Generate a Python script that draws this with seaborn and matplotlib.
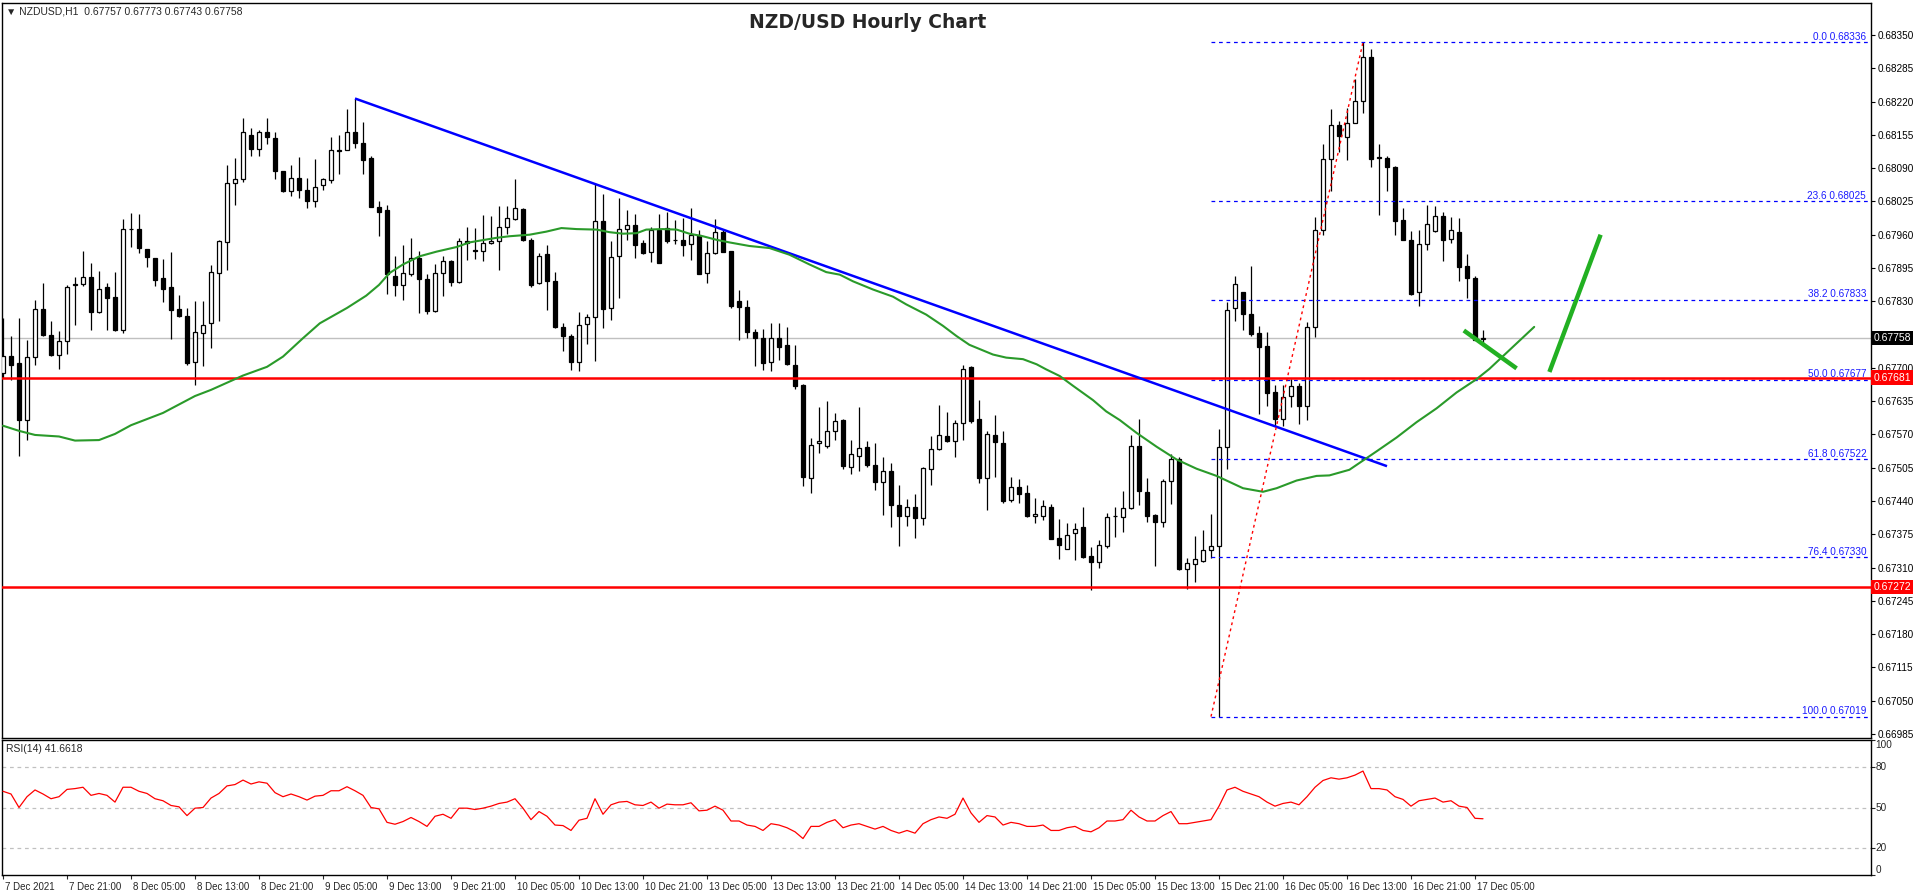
import numpy as np
import pandas as pd
import matplotlib
matplotlib.use("Agg")
import matplotlib.pyplot as plt
import matplotlib.transforms as mtransforms
import seaborn as sns

# ---------------- data ----------------
open_ = [0.67689,0.67724,0.67709,0.67598,0.67722,0.67814,0.67765,0.67726,0.67753,0.67862,
         0.67863,0.67878,0.67809,0.67858,0.67839,0.67774,0.67971,0.67971,0.67932,0.67915,
         0.67876,0.67857,0.67814,0.67802,0.67711,0.67768,0.67788,0.67885,0.67945,0.68061,
         0.68069,0.68155,0.68127,0.68160,0.68149,0.68084,0.68045,0.68071,0.68048,0.68026,
         0.68057,0.68067,0.68125,0.68126,0.68161,0.68139,0.68110,0.68014,0.68009,0.67880,
         0.67862,0.67884,0.67915,0.67874,0.67811,0.67885,0.67908,0.67867,0.67948,0.67930,
         0.67928,0.67944,0.67947,0.67975,0.67991,0.68010,0.67950,0.67865,0.67923,0.67870,
         0.67780,0.67763,0.67711,0.67785,0.67800,0.67986,0.67817,0.67918,0.67971,0.67979,
         0.67943,0.67926,0.67970,0.67973,0.67950,0.67950,0.67941,0.67960,0.67885,0.67924,
         0.67966,0.67928,0.67830,0.67819,0.67771,0.67758,0.67711,0.67758,0.67745,0.67706,
         0.67667,0.67485,0.67553,0.67547,0.67576,0.67598,0.67507,0.67528,0.67545,0.67510,
         0.67477,0.67498,0.67432,0.67410,0.67428,0.67407,0.67503,0.67542,0.67566,0.67558,
         0.67593,0.67701,0.67601,0.67484,0.67568,0.67553,0.67442,0.67467,0.67455,0.67410,
         0.67411,0.67428,0.67367,0.67347,0.67377,0.67390,0.67332,0.67321,0.67352,0.67410,
         0.67408,0.67426,0.67548,0.67458,0.67412,0.67399,0.67480,0.67523,0.67308,0.67317,
         0.67322,0.67344,0.67353,0.67546,0.67816,0.67848,0.67805,0.67768,0.67743,0.67652,
         0.67600,0.67646,0.67664,0.67625,0.67780,0.67970,0.68108,0.68174,0.68151,0.68179,
         0.68222,0.68308,0.68111,0.68110,0.68093,0.67988,0.67950,0.67848,0.67941,0.67968,
         0.67997,0.67952,0.67966,0.67898,0.67875,0.67757]
high = [0.67798,0.67763,0.67797,0.67755,0.67832,0.67865,0.67792,0.67772,0.67862,0.67878,
        0.67928,0.67904,0.67889,0.67865,0.67888,0.67991,0.68002,0.68001,0.67932,0.67915,
        0.67913,0.67927,0.67843,0.67817,0.67830,0.67831,0.67900,0.67950,0.68096,0.68110,
        0.68188,0.68169,0.68165,0.68188,0.68160,0.68084,0.68096,0.68112,0.68070,0.68108,
        0.68071,0.68151,0.68155,0.68205,0.68226,0.68181,0.68114,0.68026,0.68018,0.67919,
        0.67939,0.67953,0.67928,0.67884,0.67902,0.67918,0.67911,0.67953,0.67975,0.67974,
        0.67999,0.67997,0.68017,0.68017,0.68069,0.68012,0.67954,0.67924,0.67939,0.67888,
        0.67787,0.67767,0.67810,0.67806,0.68061,0.68040,0.67948,0.68032,0.68008,0.68001,
        0.67950,0.67976,0.68000,0.68005,0.67988,0.67993,0.68013,0.67970,0.67947,0.67991,
        0.67970,0.67928,0.67853,0.67833,0.67775,0.67775,0.67787,0.67788,0.67779,0.67744,
        0.67668,0.67564,0.67623,0.67636,0.67612,0.67600,0.67559,0.67624,0.67557,0.67554,
        0.67525,0.67514,0.67471,0.67443,0.67453,0.67506,0.67566,0.67627,0.67614,0.67598,
        0.67706,0.67703,0.67637,0.67576,0.67607,0.67577,0.67486,0.67482,0.67471,0.67446,
        0.67441,0.67434,0.67404,0.67398,0.67398,0.67429,0.67350,0.67363,0.67416,0.67428,
        0.67460,0.67569,0.67600,0.67485,0.67415,0.67482,0.67532,0.67526,0.67328,0.67371,
        0.67383,0.67414,0.67580,0.67829,0.67879,0.67848,0.67898,0.67782,0.67771,0.67666,
        0.67666,0.67678,0.67671,0.67789,0.67995,0.68138,0.68206,0.68183,0.68208,0.68265,
        0.68336,0.68323,0.68138,0.68113,0.68095,0.68013,0.67968,0.67970,0.68018,0.68017,
        0.68004,0.67995,0.67993,0.67922,0.67879,0.67773]
low = [0.67681,0.67676,0.67528,0.67559,0.67705,0.67763,0.67723,0.67698,0.67728,0.67783,
       0.67859,0.67774,0.67807,0.67774,0.67772,0.67768,0.67936,0.67924,0.67897,0.67859,
       0.67828,0.67757,0.67800,0.67706,0.67667,0.67703,0.67739,0.67791,0.67891,0.68018,
       0.68062,0.68113,0.68113,0.68138,0.68069,0.68044,0.68035,0.68031,0.68012,0.68015,
       0.68047,0.68061,0.68078,0.68125,0.68129,0.68078,0.68014,0.67958,0.67844,0.67840,
       0.67833,0.67880,0.67807,0.67806,0.67809,0.67841,0.67859,0.67866,0.67911,0.67913,
       0.67908,0.67941,0.67891,0.67962,0.67988,0.67948,0.67858,0.67863,0.67813,0.67778,
       0.67732,0.67696,0.67693,0.67746,0.67714,0.67778,0.67794,0.67836,0.67950,0.67915,
       0.67922,0.67906,0.67904,0.67943,0.67941,0.67919,0.67911,0.67884,0.67865,0.67923,
       0.67926,0.67817,0.67754,0.67758,0.67703,0.67696,0.67694,0.67716,0.67706,0.67658,
       0.67469,0.67456,0.67534,0.67544,0.67560,0.67502,0.67493,0.67499,0.67506,0.67462,
       0.67412,0.67389,0.67352,0.67391,0.67368,0.67393,0.67471,0.67540,0.67555,0.67525,
       0.67560,0.67593,0.67475,0.67423,0.67486,0.67436,0.67438,0.67437,0.67408,0.67398,
       0.67403,0.67365,0.67326,0.67346,0.67325,0.67328,0.67267,0.67310,0.67349,0.67369,
       0.67380,0.67424,0.67433,0.67399,0.67313,0.67390,0.67435,0.67306,0.67269,0.67281,
       0.67320,0.67329,0.67019,0.67503,0.67791,0.67773,0.67762,0.67610,0.67625,0.67587,
       0.67587,0.67623,0.67591,0.67598,0.67761,0.67959,0.68045,0.68122,0.68106,0.68178,
       0.68197,0.68093,0.67999,0.68045,0.67959,0.67949,0.67843,0.67821,0.67931,0.67966,
       0.67909,0.67943,0.67870,0.67836,0.67755,0.67743]
close = [0.67724,0.67706,0.67598,0.67722,0.67815,0.67764,0.67726,0.67753,0.67858,0.67862,
         0.67878,0.67809,0.67854,0.67836,0.67774,0.67971,0.67972,0.67935,0.67917,0.67871,
         0.67854,0.67813,0.67801,0.67709,0.67770,0.67784,0.67888,0.67947,0.68061,0.68069,
         0.68161,0.68127,0.68161,0.68151,0.68084,0.68045,0.68071,0.68047,0.68026,0.68053,
         0.68069,0.68126,0.68124,0.68161,0.68139,0.68106,0.68015,0.68005,0.67883,0.67862,
         0.67885,0.67915,0.67874,0.67811,0.67885,0.67908,0.67867,0.67948,0.67944,0.67928,
         0.67944,0.67947,0.67975,0.67992,0.68012,0.67949,0.67862,0.67919,0.67869,0.67779,
         0.67762,0.67711,0.67784,0.67800,0.67986,0.67814,0.67917,0.67971,0.67979,0.67939,
         0.67924,0.67970,0.67904,0.67947,0.67949,0.67939,0.67960,0.67884,0.67924,0.67966,
         0.67926,0.67820,0.67818,0.67770,0.67758,0.67710,0.67758,0.67741,0.67707,0.67664,
         0.67486,0.67550,0.67557,0.67577,0.67597,0.67508,0.67531,0.67544,0.67511,0.67477,
         0.67498,0.67432,0.67410,0.67428,0.67407,0.67505,0.67542,0.67568,0.67557,0.67593,
         0.67698,0.67596,0.67484,0.67570,0.67555,0.67440,0.67468,0.67454,0.67410,0.67414,
         0.67430,0.67365,0.67355,0.67373,0.67386,0.67330,0.67321,0.67354,0.67408,0.67410,
         0.67426,0.67548,0.67460,0.67410,0.67399,0.67480,0.67523,0.67308,0.67319,0.67326,
         0.67344,0.67353,0.67546,0.67813,0.67864,0.67805,0.67766,0.67741,0.67650,0.67600,
         0.67644,0.67664,0.67626,0.67780,0.67970,0.68108,0.68174,0.68153,0.68178,0.68222,
         0.68308,0.68108,0.68110,0.68093,0.67986,0.67950,0.67845,0.67941,0.67981,0.67997,
         0.67950,0.67970,0.67897,0.67875,0.67755,0.67758]

# green moving average, sampled along the drawn line (bar position, price)
ma_x = [0,2,4,7,9,12,14,16,20,24,26,30,33,35,37.5,39.6,43,45.4,47,48.3,50,52.1,54.2,56.7,58.3,
        61.7,63.3,65.8,67.9,69.8,71.7,74.2,75.8,77.5,79.2,80.4,82.5,84.2,85.8,87.5,89.2,90.8,
        93.3,95.8,98.3,100.8,102.9,104.6,106.25,108.75,111.25,112.9,115.4,117.5,119.2,120.8,
        123.75,125.4,127.5,129.2,130.4,132.1,133.75,136.25,137.9,139.6,141.7,144.2,146.7,149.2,
        151.7,155,157.5,159.2,161.7,164.2,165.8,168.3,170,171.7,174.2,176.7,179.2,181.7,184.2,
        185.8,191.4]
ma_y = [0.67587,0.67577,0.67569,0.67566,0.67558,0.67559,0.67571,0.67588,0.67612,0.67645,0.67657,
        0.67685,0.67702,0.67722,0.67758,0.67787,0.67817,0.67841,0.67862,0.67885,0.67902,0.67918,
        0.67927,0.67936,0.67945,0.67954,0.67957,0.67960,0.67966,0.67973,0.67971,0.67970,0.67965,
        0.67962,0.67963,0.67970,0.67971,0.67970,0.67962,0.67957,0.67950,0.67945,0.67938,0.67934,
        0.67921,0.67902,0.67887,0.67882,0.67869,0.67853,0.67839,0.67824,0.67804,0.67782,0.67762,
        0.67745,0.67726,0.67720,0.67717,0.67707,0.67697,0.67684,0.67665,0.67637,0.67615,0.67598,
        0.67573,0.67546,0.67521,0.67503,0.67489,0.67465,0.67458,0.67465,0.67480,0.67489,0.67490,
        0.67501,0.67519,0.67537,0.67564,0.67594,0.67621,0.67652,0.67678,0.67698,0.67780]

rsi = [62,60,50,58,63,60,56.5,58,63.4,64,65,59,60.4,59,54,65,65,62,60.4,56.5,
       55,51.5,50.5,44,49.5,50,57,60.4,66,67,70.3,67.4,69,68,61,58,60,58,55.5,58.4,
       59,62.4,62.4,65.4,62.4,59,50,49,39,37.6,39.6,42.6,39.6,36,43.5,45,42,49.5,49.5,48.5,
       49.5,51,53,54,56.5,49.5,41,47,43.5,37,36.6,33,40.6,42,56.5,45,52,54,54.5,52,
       51.5,54,49.5,52.5,52,52,53.5,47.5,48,51,48,40,40,37,36,33,38,37,35,32,
       27,36,36,39,41,35,37,38,36,34,36,33,31,33,31,38,41,43,42,45,
       57,46,39,44,43,37,39,38,36,36,37,33,33,35,36,33,32,35,40,40,
       41,48,43,40,40,44,47,38,38,39,40,41,51,63,65,62,60,58,54,51,
       53,54,52,58,65,70,72,71,72,74,77,64,64,63,58,56,51,55,56,57,
       54,55,51,50,42,41.66]

x_tick_labels = ["7 Dec 2021","7 Dec 21:00","8 Dec 05:00","8 Dec 13:00","8 Dec 21:00",
                 "9 Dec 05:00","9 Dec 13:00","9 Dec 21:00","10 Dec 05:00","10 Dec 13:00",
                 "10 Dec 21:00","13 Dec 05:00","13 Dec 13:00","13 Dec 21:00","14 Dec 05:00",
                 "14 Dec 13:00","14 Dec 21:00","15 Dec 05:00","15 Dec 13:00","15 Dec 21:00",
                 "16 Dec 05:00","16 Dec 13:00","16 Dec 21:00","17 Dec 05:00"]

price_ticks = [0.66985,0.67050,0.67115,0.67180,0.67245,0.67310,0.67375,0.67440,0.67505,0.67570,
               0.67635,0.67700,0.67765,0.67830,0.67895,0.67960,0.68025,0.68090,0.68155,0.68220,
               0.68285,0.68350]

trend_x = [44, 173]
trend_y = [0.68226, 0.67508]

fib_pct = ["0.0","23.6","38.2","50.0","61.8","76.4","100.0"]
fib_lvl = [0.68336,0.68025,0.67833,0.67677,0.67522,0.67330,0.67019]
fib_anchor_x = [151, 170]
fib_anchor_y = [0.67019, 0.68336]

support_levels = [0.67681, 0.67272]
last_price = 0.67758

arrow1_x = [182.6, 189.2]
arrow1_y = [0.67773, 0.67699]
arrow2_x = [193.3, 199.7]
arrow2_y = [0.67692, 0.67960]

# ---------------- styling ----------------
sns.set_theme(style="white")
plt.rcParams['font.family'] = ['Liberation Sans', 'DejaVu Sans']

W, H = 1916, 896
fig = plt.figure(figsize=(W/100, H/100), dpi=100)
fig.patch.set_facecolor("white")

def fx(px):
    return px / W
def fy(py):
    return 1 - py / H

ax = fig.add_axes([fx(2), fy(738), fx(1869), 735 / H])
rax = fig.add_axes([fx(2), fy(875), fx(1869), 135 / H], sharex=ax)

XMIN, XMAX = -0.125, 233.5
ax.set_xlim(XMIN, XMAX)
ax.set_ylim(0.669772, 0.684125)
rax.set_ylim(0, 100)

for a in (ax, rax):
    a.set_facecolor("white")
    for s in a.spines.values():
        s.set_color("black")
        s.set_linewidth(1.0)
    a.grid(False)

df = pd.DataFrame({"i": np.arange(len(close)), "open": open_, "high": high,
                   "low": low, "close": close})

# grey current-price line (behind candles)
ax.axhline(last_price, color="#c0c0c0", lw=1, zorder=1)

# candles
bull = df["close"] >= df["open"]
ax.vlines(df["i"], df["low"], df["high"], color="black", lw=0.9, zorder=2)
body_lo = np.minimum(df["open"], df["close"])
body_h = np.maximum(np.abs(df["close"] - df["open"]), 0.000008)
ax.bar(df["i"][bull], body_h[bull], bottom=body_lo[bull], width=0.62,
       facecolor="white", edgecolor="black", linewidth=0.9, zorder=3)
ax.bar(df["i"][~bull], body_h[~bull], bottom=body_lo[~bull], width=0.62,
       facecolor="black", edgecolor="black", linewidth=0.9, zorder=3)

# support lines
for lv in support_levels:
    ax.axhline(lv, color="#ff0000", lw=1.8, zorder=5)

# trend line
ax.plot(trend_x, trend_y, color="#0000ff", lw=1.8, zorder=6, solid_capstyle="butt")

# moving average
ma_df = pd.DataFrame({"x": ma_x, "y": ma_y})
sns.lineplot(data=ma_df, x="x", y="y", ax=ax, color="#2a9a2a", lw=1.5, zorder=6,
             estimator=None, sort=False)

# fibonacci
for pct, lv in zip(fib_pct, fib_lvl):
    ax.plot([fib_anchor_x[0], XMAX], [lv, lv], color="#0000ff", lw=0.9,
            ls=(0, (3, 3)), zorder=4)
    ax.text(232.9, lv + 0.00001, f"{pct} {lv:.5f}", color="#1a1aff", fontsize=7.2,
            ha="right", va="bottom", zorder=7)
ax.plot(fib_anchor_x, fib_anchor_y, color="#ff0000", lw=1.0, ls=(0, (2, 2.5)), zorder=6)

# annotation arrows
ax.plot(arrow1_x, arrow1_y, color="#22b022", lw=3.2, zorder=8, solid_capstyle="butt")
ax.plot(arrow2_x, arrow2_y, color="#22b022", lw=3.2, zorder=8, solid_capstyle="butt")

# price axis
ax.yaxis.tick_right()
ax.set_yticks(price_ticks)
ax.set_yticklabels([f"{t:.5f}" for t in price_ticks])
ax.tick_params(axis="y", which="both", right=True, left=False, length=3, width=0.8,
               pad=2, labelsize=7.2, colors="black", direction="out")
ax.tick_params(axis="x", bottom=False, labelbottom=False)
ax.set_xlabel("")
ax.set_ylabel("")

# price boxes on axis
box_tr = mtransforms.blended_transform_factory(ax.transAxes, ax.transData)
ax.text(1.0012, last_price, f"{last_price:.5f}", transform=box_tr, fontsize=7.5,
        color="white", ha="left", va="center", zorder=10, clip_on=False,
        bbox=dict(boxstyle="square,pad=0.22", fc="black", ec="none"))
for lv in support_levels:
    ax.text(1.0012, lv, f"{lv:.5f}", transform=box_tr, fontsize=7.5, color="white",
            ha="left", va="center", zorder=10, clip_on=False,
            bbox=dict(boxstyle="square,pad=0.22", fc="#ff0000", ec="none"))

# RSI panel
for lv in (80, 50, 20):
    rax.axhline(lv, color="#c0c0c0", lw=0.9, ls=(0, (3, 3)), zorder=1)
rsi_df = pd.DataFrame({"i": np.arange(len(rsi)), "rsi": rsi})
sns.lineplot(data=rsi_df, x="i", y="rsi", ax=rax, color="#ff0000", lw=0.9, zorder=3,
             estimator=None)
rax.yaxis.tick_right()
rax.set_yticks([100, 80, 50, 20, 0])
rax.set_yticklabels([])
rax.tick_params(axis="y", right=True, left=False, length=3, width=0.8, direction="out")
rtr = mtransforms.blended_transform_factory(rax.transAxes, rax.transData)
for v, va in ((100, "top"), (80, "center"), (50, "center"), (20, "center"), (0, "bottom")):
    rax.text(1.0025, v, str(v), transform=rtr, fontsize=7.2, ha="left", va=va,
             clip_on=False)
rax.set_ylabel("")
rax.set_xlabel("")

xt = list(range(0, 8 * len(x_tick_labels), 8))
rax.set_xticks(xt)
rax.set_xticklabels(x_tick_labels)
rax.tick_params(axis="x", bottom=True, length=3, width=0.8, pad=2, labelsize=7,
                direction="out")
offset = mtransforms.ScaledTranslation(2 / 100, 0, fig.dpi_scale_trans)
for lab in rax.get_xticklabels():
    lab.set_horizontalalignment("left")
    lab.set_transform(lab.get_transform() + offset)
rax.set_xlim(XMIN, XMAX)

# texts
fig.text(fx(6), fy(11), "\u25BC NZDUSD,H1  0.67757 0.67773 0.67743 0.67758", fontsize=7.5,
         ha="left", va="center", family=["Liberation Sans", "DejaVu Sans"])
fig.text(fx(868), fy(23), "NZD/USD Hourly Chart", fontsize=13.5, fontweight="bold",
         ha="center", va="center", family=["DejaVu Sans"])
fig.text(fx(6), fy(749), "RSI(14) 41.6618", fontsize=7.5, ha="left", va="center")

fig.savefig("out.png", dpi=100, facecolor="white")
